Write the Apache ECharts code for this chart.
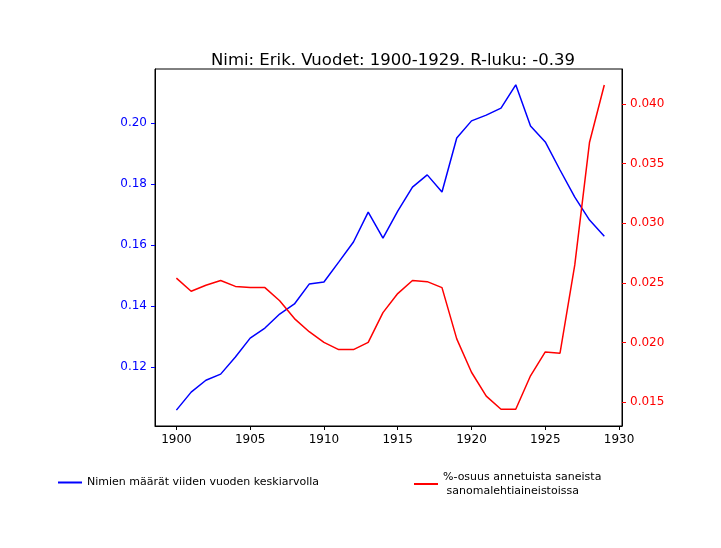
<!DOCTYPE html>
<html>
<head>
<meta charset="utf-8">
<script src="https://cdn.jsdelivr.net/npm/echarts@6/dist/echarts.min.js"></script>
<style>html,body{margin:0;background:#fff}#chart{width:721px;height:548px}</style>
</head>
<body>
<div id="chart"></div>
<script>
var years = [1900,1901,1902,1903,1904,1905,1906,1907,1908,1909,1910,1911,1912,1913,1914,
  1915,1916,1917,1918,1919,1920,1921,1922,1923,1924,1925,1926,1927,1928,1929];
// Nimien määrät viiden vuoden keskiarvolla
var counts = [0.1059,0.1118,0.1157,0.1177,0.1233,0.1295,0.1328,0.1374,0.1407,0.1472,0.1479,
  0.1544,0.1610,0.1708,0.1623,0.1711,0.1790,0.1830,0.1774,0.1951,0.2007,0.2026,0.2049,
  0.2125,0.1990,0.1938,0.1846,0.1757,0.1682,0.1629];
// %-osuus annetuista saneista
var shares = [0.0254,0.0243,0.0248,0.0252,0.0247,0.0246,0.0246,0.0235,0.0220,0.0209,0.0200,
  0.0194,0.0194,0.0200,0.0225,0.0241,0.0252,0.0251,0.0246,0.0203,0.0175,0.0155,0.0144,
  0.0144,0.0172,0.0192,0.0191,0.0265,0.0368,0.0416];
var xTicks = [1900,1905,1910,1915,1920,1925,1930];
var leftTicks = [0.12,0.14,0.16,0.18,0.20];
var rightTicks = [0.015,0.020,0.025,0.030,0.035,0.040];

var font = 'DejaVu Sans';
var chart = echarts.init(document.getElementById('chart'));
chart.setOption({
  animation: false,
  textStyle: {fontFamily: font},
  title: {
    text: 'Nimi: Erik. Vuodet: 1900-1929. R-luku: -0.39',
    left: 388, top: 47, textAlign: 'center',
    textStyle: {fontFamily: font, fontSize: 16.5, fontWeight: 'normal', color: '#000'}
  },
  grid: {left: 155, right: 99, top: 69, bottom: 122, show: true, borderColor: '#000', borderWidth: 1},
  legend: [
    {data: ['Nimien määrät viiden vuoden keskiarvolla'], left: 53, top: 472, itemWidth: 24, itemHeight: 2,
      icon: 'rect', textStyle: {fontFamily: font, fontSize: 11, color: '#000'}},
    {data: ['%-osuus annetuista saneista\n sanomalehtiaineistoissa'], left: 409, top: 465, itemWidth: 24, itemHeight: 2,
      icon: 'rect', textStyle: {fontFamily: font, fontSize: 11, color: '#000', lineHeight: 14}}
  ],
  xAxis: {
    type: 'value', min: 1898.55, max: 1930.2,
    splitLine: {show: false},
    axisLine: {onZero: false, lineStyle: {color: '#000'}},
    axisTick: {show: true, customValues: xTicks, length: 4, lineStyle: {color: '#000'}},
    axisLabel: {customValues: xTicks, color: '#000', fontSize: 12, margin: 8,
      formatter: function (v) { return String(v); }}
  },
  yAxis: [
    {type: 'value', min: 0.1007, max: 0.2177, position: 'left',
      splitLine: {show: false},
      axisLine: {show: true, lineStyle: {color: '#000'}},
      axisTick: {show: true, customValues: leftTicks, length: 4, lineStyle: {color: 'blue'}},
      axisLabel: {customValues: leftTicks, color: 'blue', fontSize: 12, margin: 8,
        formatter: function (v) { return v.toFixed(2); }}},
    {type: 'value', min: 0.01299, max: 0.04294, position: 'right',
      splitLine: {show: false},
      axisLine: {show: true, lineStyle: {color: '#000'}},
      axisTick: {show: true, customValues: rightTicks, length: 4, lineStyle: {color: 'red'}},
      axisLabel: {customValues: rightTicks, color: 'red', fontSize: 12, margin: 8,
        formatter: function (v) { return v.toFixed(3); }}}
  ],
  series: [
    {name: 'Nimien määrät viiden vuoden keskiarvolla', type: 'line', yAxisIndex: 0,
      data: years.map(function (y, i) { return [y, counts[i]]; }),
      showSymbol: false, color: 'blue', lineStyle: {width: 1.5, color: 'blue'}},
    {name: '%-osuus annetuista saneista\n sanomalehtiaineistoissa', type: 'line', yAxisIndex: 1,
      data: years.map(function (y, i) { return [y, shares[i]]; }),
      showSymbol: false, color: 'red', lineStyle: {width: 1.5, color: 'red'}}
  ]
});
</script>
</body>
</html>
